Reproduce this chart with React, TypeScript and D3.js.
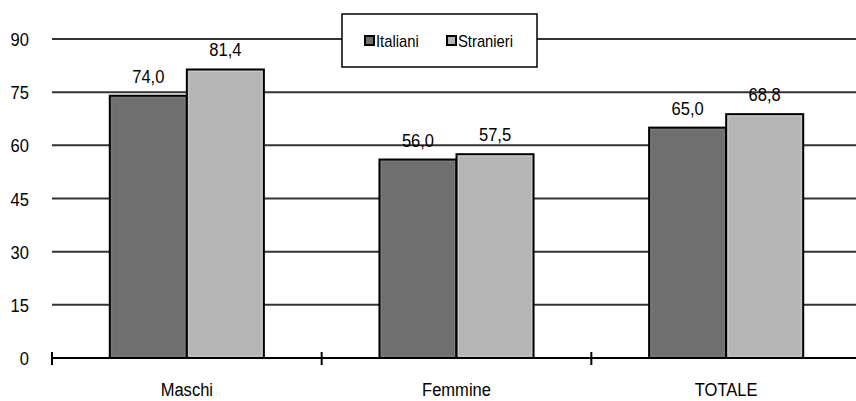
import React from "react";
import * as d3 from "d3";

const categories = ["Maschi", "Femmine", "TOTALE"];
const seriesNames = ["Italiani", "Stranieri"];
const italiani = [74.0, 56.0, 65.0];
const stranieri = [81.4, 57.5, 68.8];
const yTicks = [0, 15, 30, 45, 60, 75, 90];
const colors = ["#6f6f6f", "#b5b5b5"];

const W = 856;
const H = 401;
const FONT = "'Liberation Sans', Arial, sans-serif";
const SX = 0.87;

function T(props: { x: number; y: number; anchor?: string; size: number; children: React.ReactNode }) {
  return (
    <text
      transform={`translate(${props.x},${props.y}) scale(${SX},1)`}
      textAnchor={props.anchor || "middle"}
      fontSize={props.size}
      fontFamily={FONT}
      fill="#000"
    >
      {props.children}
    </text>
  );
}

export default function App() {
  const left = 52;
  const right = 861;
  const y = d3.scaleLinear().domain([0, 90]).range([358, 39]);
  const x0 = d3.scaleBand<string>().domain(categories).range([left, right]).padding(0);
  const x1 = d3
    .scaleBand<string>()
    .domain(seriesNames)
    .range([0, x0.bandwidth()])
    .paddingInner(0)
    .paddingOuter(0.75);
  const data = categories.map((c, i) => ({ c, vals: [italiani[i], stranieri[i]] }));
  const fmt = (v: number) => v.toFixed(1).replace(".", ",");
  const tickXs = [left, ...categories.slice(1).map((c) => x0(c) as number)];

  return (
    <svg
      width={W}
      height={H}
      style={{ position: "absolute", left: 0, top: 0, background: "#fff" }}
    >
      <rect x={0} y={0} width={W} height={H} fill="#fff" />
      {yTicks.filter((t) => t > 0).map((t) => (
        <line key={t} x1={left} x2={W} y1={y(t)} y2={y(t)} stroke="#333" strokeWidth={2} />
      ))}
      {yTicks.map((t) => (
        <T key={"l" + t} x={29} y={y(t) + 7} anchor="end" size={19}>
          {t}
        </T>
      ))}
      {data.map((d) => (
        <g key={d.c}>
          {d.vals.map((v, j) => {
            const bx = (x0(d.c) as number) + (x1(seriesNames[j]) as number);
            const bw = x1.bandwidth();
            return (
              <g key={j}>
                <rect
                  x={bx}
                  y={y(v)}
                  width={bw}
                  height={y(0) - y(v)}
                  fill={colors[j]}
                  stroke="#000"
                  strokeWidth={2}
                />
                <rect
                  x={bx + 2}
                  y={y(v) + 2}
                  width={bw - 4}
                  height={y(0) - y(v) - 4}
                  fill="none"
                  stroke={j === 0 ? "#7c7c7c" : "#c8c8c8"}
                  strokeWidth={1}
                />
                <T x={bx + bw / 2} y={y(v) - 13} size={19}>
                  {fmt(v)}
                </T>
              </g>
            );
          })}
          <T x={(x0(d.c) as number) + x0.bandwidth() / 2} y={396} size={19}>
            {d.c}
          </T>
        </g>
      ))}
      <line x1={left} x2={W} y1={y(0)} y2={y(0)} stroke="#000" strokeWidth={2} />
      {tickXs.map((tx, i) => (
        <line key={"t" + i} x1={tx} x2={tx} y1={y(0) - 6} y2={y(0) + 7} stroke="#000" strokeWidth={2} />
      ))}
      <g>
        <rect x={342} y={14} width={195} height={53} fill="#fff" stroke="#000" strokeWidth={1.5} />
        {seriesNames.map((s, i) => {
          const lx = i === 0 ? 365 : 447;
          return (
            <g key={s}>
              <rect x={lx} y={36} width={9} height={9} fill={colors[i]} stroke="#000" strokeWidth={2} />
              <T x={lx + 11} y={47} anchor="start" size={17}>
                {s}
              </T>
            </g>
          );
        })}
      </g>
    </svg>
  );
}
